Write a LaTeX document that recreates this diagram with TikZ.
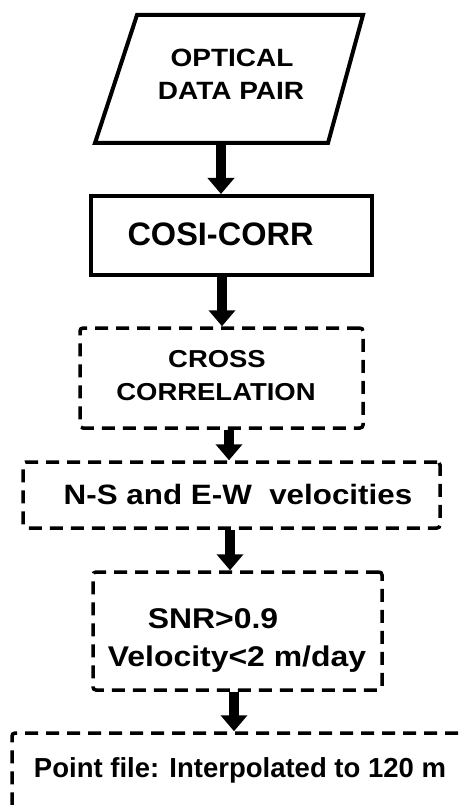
\documentclass[tikz,border=0pt]{standalone}
\usepackage{fontspec}
\setmainfont{Liberation Sans}
\newfontfamily\widefont{Liberation Sans}[FakeStretch=1.12]
\usetikzlibrary{arrows.meta,calc}
\begin{document}
\begin{tikzpicture}[x=1pt,y=-1pt,
  txt/.style={anchor=base, inner sep=0pt},
  fa/.style={font=\widefont\bfseries\fontsize{25}{30}\selectfont},
  fe/.style={font=\widefont\bfseries\fontsize{24.5}{30}\selectfont},
  fb/.style={font=\bfseries\fontsize{32.5}{36}\selectfont},
  fc/.style={font=\widefont\bfseries\fontsize{28}{34}\selectfont},
  fs/.style={font=\widefont\bfseries\fontsize{28.5}{34}\selectfont},
  fd/.style={font=\bfseries\fontsize{27.5}{32}\selectfont},
  solidbox/.style={draw, line width=4pt, inner sep=0pt},
  dashbox/.style={draw, line width=3.5pt, dash pattern=on 13pt off 8pt, rounded corners=3pt, inner sep=0pt},
  arr/.style={line width=10pt, -{Triangle[length=16pt,width=26pt]}}]
\useasboundingbox (0,0) rectangle (462,805);
% parallelogram
\coordinate (pTL) at (137,15);
\coordinate (pTR) at (363,15);
\coordinate (pBR) at (328,143);
\coordinate (pBL) at (95,143);
\coordinate (pB) at (221,143);
\draw[line width=4pt, line join=miter] (pTL) -- (pTR) -- (pBR) -- (pBL) -- cycle;
% boxes
\node[solidbox, minimum width=281pt, minimum height=79pt] (cosi) at (231.5,235.5) {};
\node[dashbox, minimum width=283pt, minimum height=100pt] (cross) at (221.5,378) {};
\node[dashbox, minimum width=417pt, minimum height=66pt] (ns) at (231.5,495) {};
\node[dashbox, minimum width=289pt, minimum height=118pt] (snr) at (237.5,631) {};
\node[dashbox, minimum width=470pt, minimum height=84pt] (pt) at (247,775) {};
% texts
\node[txt, fa] (optA) at (232,67) {OPTICAL};
\node[txt, fa] (optB) at (231,100) {DATA PAIR};
\node[txt, fb] (cosiT) at (220.5,245) {COSI-CORR};
\node[txt, fe] (crossA) at (217,367) {CROSS};
\node[txt, fe] (crossB) at (216,400) {CORRELATION};
\node[txt, fc] (nsT) at (238,504) {N-S and E-W\ \ velocities};
\node[txt, fs] (snrA) at (213,628) {SNR>0.9};
\node[txt, fs] (snrB) at (237,666) {Velocity<2 m/day};
\node[txt, fd] (ptT) at (240,777) {Point file: Interpolated to 120 m};
% arrows
\draw[arr] (pB) -- (pB |- cosi.north);
\draw[arr] ([xshift=-9.5pt]cosi.south) -- ([xshift=-9.5pt]cosi.south |- cross.north);
\draw[arr] ([xshift=7.5pt]cross.south) -- ([xshift=7.5pt]cross.south |- ns.north);
\draw[arr] ([xshift=-1.5pt]ns.south) -- ([xshift=-1.5pt]ns.south |- snr.north);
\draw[arr] ([xshift=-3.5pt]snr.south) -- ([xshift=-3.5pt]snr.south |- pt.north);
\end{tikzpicture}
\end{document}
